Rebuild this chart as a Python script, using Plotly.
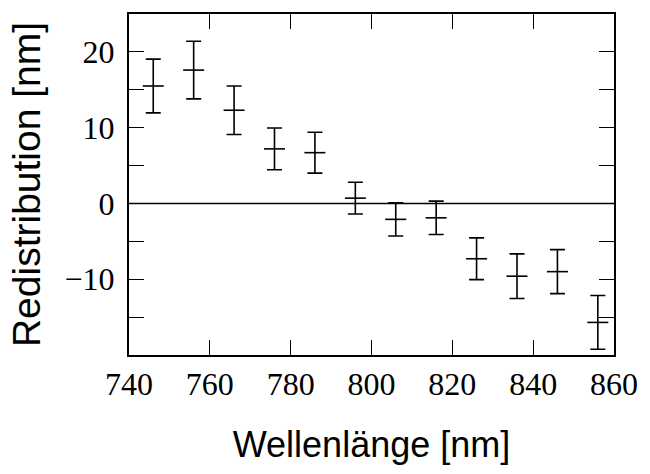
import plotly.graph_objects as go

# Measured redistribution per wavelength channel
wavelength_nm = [746, 756, 766, 776, 786, 796, 806, 816, 826, 836, 846, 856]
redistribution_nm = [15.5, 17.6, 12.3, 7.2, 6.7, 0.7, -2.1, -1.9, -7.3, -9.6, -9.0, -15.7]
uncertainty_nm = [3.55, 3.8, 3.2, 2.75, 2.7, 2.1, 2.2, 2.2, 2.75, 2.95, 2.9, 3.55]

x_ticks = [740, 760, 780, 800, 820, 840, 860]
y_ticks = [-15, -10, -5, 0, 5, 10, 15, 20]
y_labeled = [-10, 0, 10, 20]


def fmt(v):
    return ("\u2212" + str(-v)) if v < 0 else str(v)


y_ticktext = [fmt(v) if v in y_labeled else "" for v in y_ticks]

fig = go.Figure()

fig.add_trace(go.Scatter(
    x=wavelength_nm,
    y=redistribution_nm,
    mode="markers",
    marker=dict(symbol="line-ew", size=15, color="black",
                line=dict(color="black", width=1.6)),
    error_y=dict(type="data", array=uncertainty_nm, visible=True,
                 color="black", thickness=1.6, width=7.5),
    showlegend=False,
))

# horizontal reference line at zero
fig.add_shape(type="line", xref="paper", x0=0, x1=1, yref="y", y0=0, y1=0,
              line=dict(color="black", width=1.6), layer="below")

axis_common = dict(
    showgrid=False, zeroline=False, showline=True, linecolor="black",
    linewidth=2, mirror="allticks", ticks="inside", ticklen=15,
    tickwidth=1.4, tickcolor="black",
    tickfont=dict(family="Liberation Serif", size=32, color="black"),
)

fig.update_xaxes(
    range=[740, 860], tickvals=x_ticks, ticktext=[str(v) for v in x_ticks],
    title=dict(text="Wellenlänge [nm]", standoff=30,
               font=dict(family="Liberation Sans", size=36, color="black")),
    **axis_common,
)
fig.update_yaxes(
    range=[-20, 25], tickvals=y_ticks, ticktext=y_ticktext,
    ticklabelstandoff=6,
    title=dict(text="Redistribution [nm]", standoff=12,
               font=dict(family="Liberation Sans", size=39, color="black")),
    **axis_common,
)

fig.update_layout(
    width=650, height=474,
    margin=dict(l=129, r=36, t=12, b=119),
    plot_bgcolor="white", paper_bgcolor="white",
)

fig.write_html("out.html")
